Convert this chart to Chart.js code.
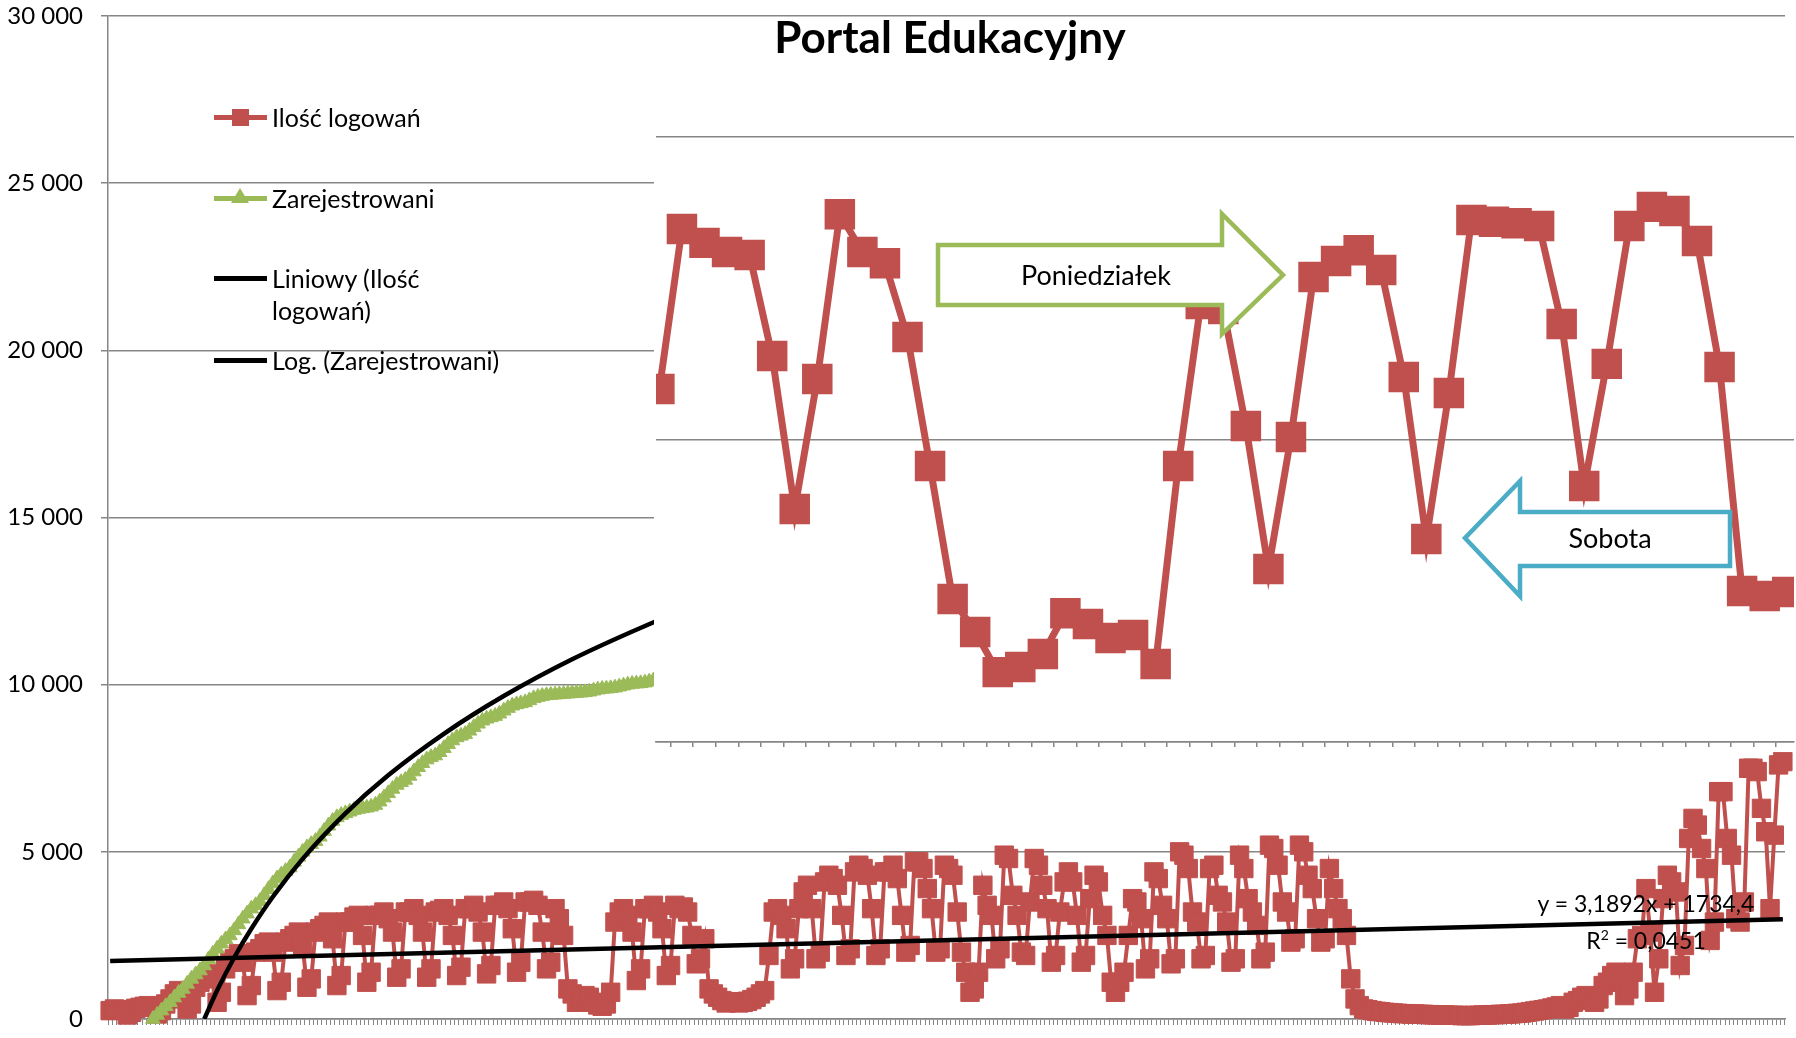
<!DOCTYPE html>
<html>
<head>
<meta charset="utf-8">
<title>Portal Edukacyjny</title>
<script src="https://cdn.jsdelivr.net/npm/chart.js@4.4.1/dist/chart.umd.min.js"></script>
<style>
    html, body { margin: 0; padding: 0; background: #fff; }
    #wrap { position: relative; width: 1796px; height: 1038px; overflow: hidden; font-family: 'Lato', 'Noto Sans', sans-serif; color: #000; }
    canvas { position: absolute; display: block; }
    #mainChart { left: 0; top: 0; }
    #insetChart { left: 654px; top: 118px; background: #fff; }
    #arrows { position: absolute; left: 0; top: 0; }
    .title { position: absolute; left: 700px; width: 500px; top: 8px; text-align: center; font-weight: bold; font-size: 44px; line-height: 56px; }
    .legend-item { position: absolute; left: 214px; height: 32px; font-size: 25px; line-height: 32px; }
    .legend-item .mark { position: absolute; left: 0; top: 14px; width: 53px; height: 5px; }
    .legend-item .sq { position: absolute; left: 18px; top: -6px; width: 17px; height: 17px; }
    .legend-item .tri { position: absolute; left: 17px; top: -8px; width: 0; height: 0; border-left: 9px solid transparent; border-right: 9px solid transparent; border-bottom: 15px solid #9BBB59; }
    .legend-item .txt { position: absolute; left: 58px; top: 0; white-space: nowrap; }
    .note { position: absolute; text-align: center; white-space: nowrap; }
    .arrow-label { font-size: 27px; line-height: 34px; }
    .equation { left: 1496px; width: 300px; top: 887px; font-size: 23px; line-height: 32px; }
</style>
</head>
<body>
<div id="wrap">
    <canvas id="mainChart" width="1796" height="1038"></canvas>
    <canvas id="insetChart" width="1142" height="634"></canvas>

    <svg id="arrows" width="1796" height="1038">
        <polygon points="938,245 1222,245 1222,214 1283,275 1222,334 1222,305 938,305"
                 fill="#fff" stroke="#9BBB59" stroke-width="4.5" />
        <polygon points="1730,512 1520,512 1520,481 1465,538 1520,596 1520,566 1730,566"
                 fill="#fff" stroke="#4BACC6" stroke-width="4.5" />
    </svg>

    <div class="title">Portal Edukacyjny</div>

    <div class="legend-item" style="top:101px">
        <div class="mark" style="background:#C0504D"><div class="sq" style="background:#C0504D"></div></div>
        <div class="txt">Ilość logowań</div>
    </div>
    <div class="legend-item" style="top:182px">
        <div class="mark" style="background:#9BBB59"><div class="tri"></div></div>
        <div class="txt">Zarejestrowani</div>
    </div>
    <div class="legend-item" style="top:262px">
        <div class="mark" style="background:#000"></div>
        <div class="txt">Liniowy (Ilość<br>logowań)</div>
    </div>
    <div class="legend-item" style="top:344px">
        <div class="mark" style="background:#000"></div>
        <div class="txt">Log. (Zarejestrowani)</div>
    </div>

    <div class="note arrow-label" style="left:996px; width:200px; top:258px">Poniedziałek</div>
    <div class="note arrow-label" style="left:1510px; width:200px; top:521px">Sobota</div>
    <div class="note equation">y = 3,1892x + 1734,4<br>R<sup style="font-size:14px">2</sup> = 0,0451</div>
</div>

<script>
// Colours
const RED = '#C0504D';
const GREEN = '#9BBB59';
const GRID = '#868686';
const FONT = "'Lato', 'Noto Sans', sans-serif";

// Ilość logowań – daily values, one row per week
const LOGINS = [
    250, 300, 280, 260, 120, 200, 320,
    350, 380, 400, 350, 150, 250, 450,
    600, 750, 850, 700, 300, 450, 950,
    1100, 1250, 1350, 1200, 500, 800, 1500,
    1700, 1800, 1950, 1700, 700, 1000, 2000,
    2100, 2250, 2300, 2000, 850, 1100, 2300,
    2400, 2500, 2600, 2200, 950, 1200, 2600,
    2700, 2800, 2900, 2400, 1000, 1300, 2900,
    2900, 3050, 3100, 2500, 1100, 1400, 3100,
    3100, 3200, 3000, 2600, 1250, 1500, 3200,
    3200, 3300, 3100, 2600, 1250, 1500, 3200,
    3250, 3300, 3100, 2500, 1300, 1550, 3300,
    3300, 3400, 3200, 2600, 1350, 1600, 3400,
    3400, 3500, 3300, 2700, 1400, 1700, 3500,
    3500, 3550, 3400, 2600, 1500, 1700, 3300,
    3000, 2500, 900, 750, 500, 550, 700,
    650, 500, 420, 380, 450, 800, 2900,
    3200, 3300, 3100, 2600, 1150, 1500, 3300,
    3300, 3400, 3200, 2700, 1300, 1600, 3400,
    3300, 3350, 3200, 2500, 1650, 1800, 2400,
    900, 750, 650, 550, 480, 500, 520,
    480, 500, 530, 580, 650, 750, 850,
    1900, 3200, 3300, 3100, 2700, 1500, 1800,
    3300, 3800, 4000, 3300, 1800, 2000, 4100,
    4300, 4200, 4000, 3100, 1900, 2100, 4400,
    4600, 4500, 4300, 3300, 1900, 2100, 4400,
    4400, 4600, 4200, 3100, 2000, 2200, 4700,
    4700, 4500, 3900, 3300, 2000, 2100, 4600,
    4500, 4300, 3200, 2000, 1400, 800, 900,
    1400, 4000, 3400, 3100, 1800, 2100, 4900,
    4800, 3700, 3100, 2000, 1900, 3500, 4800,
    4600, 4000, 3300, 1700, 1900, 3200, 4100,
    4400, 4100, 3100, 1700, 1900, 3600, 4300,
    4100, 3100, 2500, 1100, 800, 1100, 1400,
    2500, 3600, 3500, 3000, 1500, 1800, 4400,
    4200, 3400, 3000, 1650, 1800, 5000, 4900,
    4500, 3200, 2900, 1800, 1900, 4500, 4600,
    3700, 3500, 2900, 1700, 1800, 4900, 4500,
    3600, 3200, 2800, 1800, 2000, 5200, 5100,
    4600, 3500, 3200, 2300, 2400, 5200, 5000,
    4300, 3900, 3000, 2300, 2400, 4500, 3900,
    3300, 3000, 2500, 1200, 600, 400, 300,
    280, 250, 230, 220, 200, 190, 180,
    170, 160, 160, 150, 150, 140, 140,
    130, 130, 120, 120, 120, 110, 110,
    110, 100, 100, 100, 110, 110, 120,
    120, 130, 130, 140, 140, 150, 160,
    170, 180, 200, 220, 240, 260, 280,
    300, 330, 360, 400, 300, 350, 500,
    550, 650, 700, 650, 500, 600, 1000,
    1100, 1300, 1400, 1100, 700, 900, 1400,
    2400, 2500, 3900, 2600, 800, 1800, 3600,
    4300, 4100, 3800, 1600, 2200, 5400, 6000,
    5800, 5100, 4500, 2350, 2900, 6800, 6800,
    5400, 4900, 3000, 2900, 3500, 7500, 7500,
    7400, 6300, 5600, 3300, 5500, 7600, 7700
];

// Zarejestrowani – starts on day index REG_START (visible part only)
const REG_START = 10;
const REGISTERED = [
    0, 120, 250, 380, 500, 640, 780, 900, 1050, 1200,
    1330, 1450, 1600, 1780, 1950, 2100, 2250, 2380, 2500, 2650,
    2830, 3000, 3150, 3300, 3400, 3520, 3700, 3880, 4050, 4200,
    4320, 4420, 4530, 4700, 4850, 5000, 5130, 5230, 5320, 5450,
    5620, 5780, 5920, 6030, 6100, 6150, 6200, 6250, 6280, 6300,
    6320, 6350, 6400, 6500, 6620, 6750, 6880, 7000, 7080, 7150,
    7270, 7400, 7530, 7650, 7760, 7830, 7880, 7980, 8100, 8220,
    8330, 8420, 8470, 8520, 8620, 8730, 8830, 8920, 8980, 9020,
    9060, 9130, 9220, 9300, 9370, 9410, 9440, 9470, 9530, 9590,
    9630, 9660, 9680, 9690, 9700, 9710, 9720, 9730, 9740, 9750,
    9760, 9770, 9790, 9820, 9850, 9870, 9880, 9890, 9910, 9940,
    9970, 10000, 10020, 10030, 10040, 10060, 10090, 10120, 10150, 10180,
    10210, 10240, 10270
];

// Trend lines
const LIN_TREND_START = 1737;
const LIN_TREND_END = 2984;
const LOG_TREND_DAYS = [22, 25, 29, 33, 38, 45, 55, 65, 78, 92, 108, 128, 140];
const LOG_TREND_VALUES = [0, 850, 1840, 2700, 3650, 4790, 6150, 7290, 8530, 9660, 10760, 11920, 12540];

// Axis
const Y_MIN = 0;
const Y_MAX = 30000;
const Y_STEP = 5000;

// Inset (zoomed) chart
const INSET_LOGINS = [
    21670, 26960, 26500, 26200, 26100, 22760, 17700, 22000, 27450, 26200,
    25830, 23390, 19120, 14730, 13640, 12310, 12480, 12910, 14260, 13900,
    13440, 13540, 12580, 19120, 24480, 24310, 20450, 15720, 20080, 25370,
    25900, 26260, 25600, 22070, 16710, 21540, 27260, 27200, 27150, 27060,
    23820, 18460, 22500, 27060, 27690, 27550, 26560, 22400, 14990, 14830,
    14960
];
const INSET_GRID = [10000, 20000, 30000];

// Helpers
function formatThousands(v) {
    return String(v).replace(/\B(?=(\d{3})+(?!\d))/g, '\u00a0');
}

const days = LOGINS.map((_, i) => String(i + 1));

const registeredSeries = days.map((_, i) => {
    const k = i - REG_START;
    return (k >= 0 && k < REGISTERED.length) ? REGISTERED[k] : null;
});

const linTrend = days.map((_, i) => {
    if (i === 0) return LIN_TREND_START;
    if (i === days.length - 1) return LIN_TREND_END;
    return null;
});

const logTrend = days.map(() => null);
LOG_TREND_DAYS.forEach((d, j) => { logTrend[d] = LOG_TREND_VALUES[j]; });

// Main chart
new Chart(document.getElementById('mainChart'), {
    type: 'line',
    data: {
        labels: days,
        datasets: [
            {
                label: 'Liniowy (Ilość logowań)',
                data: linTrend,
                borderColor: '#000',
                borderWidth: 4.5,
                pointRadius: 0,
                spanGaps: true,
                clip: false,
                order: 0
            },
            {
                label: 'Log. (Zarejestrowani)',
                data: logTrend,
                borderColor: '#000',
                borderWidth: 4.5,
                pointRadius: 0,
                spanGaps: true,
                cubicInterpolationMode: 'monotone',
                order: 0
            },
            {
                label: 'Zarejestrowani',
                data: registeredSeries,
                borderColor: GREEN,
                backgroundColor: GREEN,
                borderWidth: 4,
                pointStyle: 'triangle',
                pointRadius: 8.5,
                pointBorderWidth: 1,
                clip: false,
                order: 1
            },
            {
                label: 'Ilość logowań',
                data: LOGINS,
                borderColor: RED,
                backgroundColor: RED,
                borderWidth: 4,
                pointStyle: 'rect',
                pointRadius: 13,
                pointBorderWidth: 1,
                clip: false,
                order: 2
            }
        ]
    },
    options: {
        responsive: false,
        animation: false,
        events: [],
        layout: { autoPadding: false, padding: { left: 8, right: 11, top: 16, bottom: 7 } },
        plugins: {
            legend: { display: false },
            tooltip: { enabled: false },
            title: { display: false }
        },
        scales: {
            x: {
                type: 'category',
                offset: true,
                ticks: { display: false, autoSkip: false },
                grid: { offset: true, drawOnChartArea: false, color: GRID, lineWidth: 1, tickLength: 6 },
                border: { color: GRID, width: 1.5 },
                afterFit: (scale) => { scale.height = 12; }
            },
            y: {
                min: Y_MIN,
                max: Y_MAX,
                ticks: {
                    stepSize: Y_STEP,
                    color: '#000',
                    padding: 18,
                    font: { family: FONT, size: 24 },
                    callback: (v) => formatThousands(v)
                },
                grid: { color: GRID, lineWidth: 1.5, tickLength: 7 },
                border: { color: GRID, width: 1.5 },
                afterFit: (scale) => {
                    scale.width = 100;
                    scale.paddingTop = 0;
                    scale.paddingBottom = 0;
                }
            }
        }
    }
});

// Inset chart
new Chart(document.getElementById('insetChart'), {
    type: 'line',
    data: {
        datasets: [{
            label: 'Ilość logowań',
            data: INSET_LOGINS.map((v, k) => ({ x: k, y: v })),
            borderColor: RED,
            backgroundColor: RED,
            borderWidth: 7,
            pointStyle: 'rect',
            pointRadius: 20.5,
            pointBorderWidth: 1.5,
            clip: 0
        }]
    },
    options: {
        responsive: false,
        animation: false,
        events: [],
        layout: { autoPadding: false, padding: { left: 2, right: 2, top: 19, bottom: 4 } },
        plugins: {
            legend: { display: false },
            tooltip: { enabled: false }
        },
        scales: {
            x: {
                type: 'linear',
                min: -0.15,
                max: 50.3,
                afterBuildTicks: (scale) => {
                    scale.ticks = INSET_LOGINS.slice(1).map((_, k) => ({ value: k + 0.5 }));
                },
                ticks: { display: false },
                grid: { drawOnChartArea: false, color: GRID, lineWidth: 1.5, tickLength: 5 },
                border: { color: GRID, width: 1.5 },
                afterFit: (scale) => { scale.height = 6; }
            },
            y: {
                min: INSET_GRID[0],
                max: INSET_GRID[INSET_GRID.length - 1],
                afterBuildTicks: (scale) => {
                    scale.ticks = INSET_GRID.map(v => ({ value: v }));
                },
                ticks: { display: false },
                grid: { color: GRID, lineWidth: 1.5, drawTicks: false },
                border: { display: false },
                afterFit: (scale) => { scale.width = 0; }
            }
        }
    }
});
</script>
</body>
</html>
